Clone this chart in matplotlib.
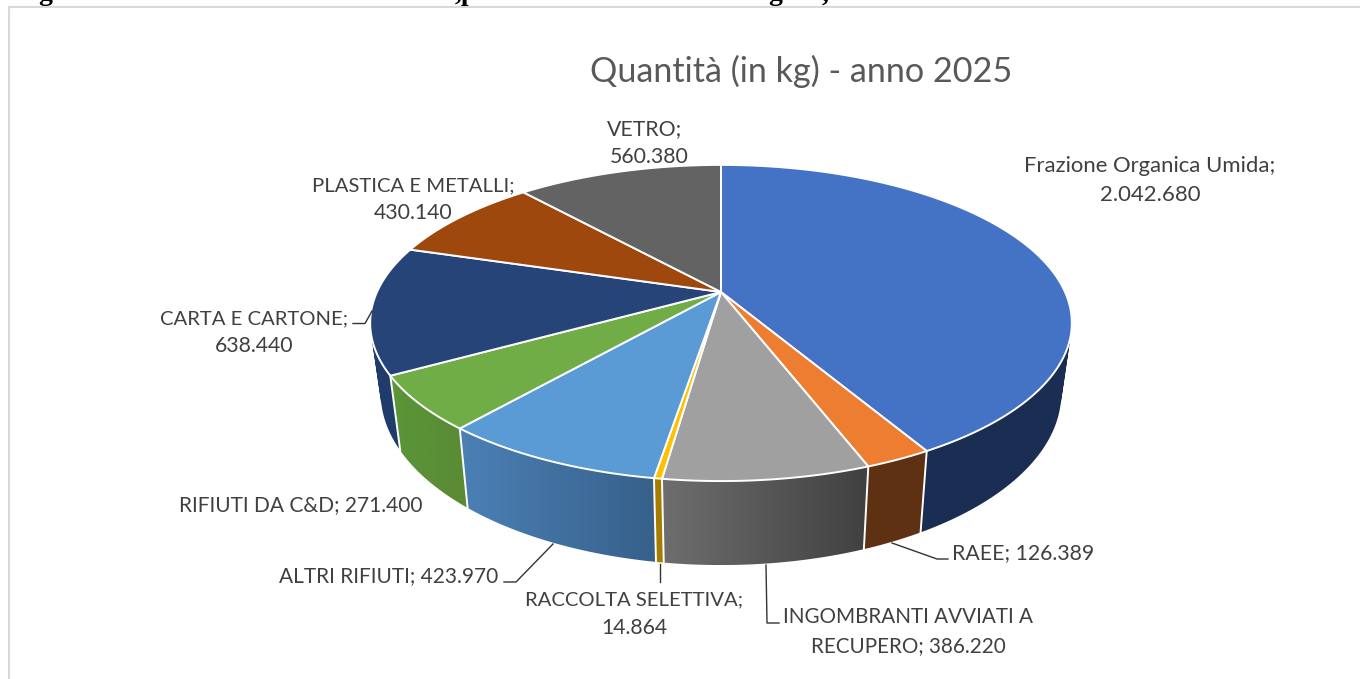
import numpy as np
from matplotlib import pyplot as plt
from matplotlib.colors import LinearSegmentedColormap
from matplotlib.path import Path
from matplotlib.patches import PathPatch, Polygon

# data
categories = [
    "Frazione Organica Umida",
    "RAEE",
    "INGOMBRANTI AVVIATI A RECUPERO",
    "RACCOLTA SELETTIVA",
    "ALTRI RIFIUTI",
    "RIFIUTI DA C&D",
    "CARTA E CARTONE",
    "PLASTICA E METALLI",
    "VETRO",
]
values = [2042680, 126389, 386220, 14864, 423970, 271400, 638440, 430140, 560380]
value_labels = ["2.042.680", "126.389", "386.220", "14.864", "423.970", "271.400", "638.440", "430.140", "560.380"]
title = "Quantità (in kg) - anno 2025"

top_colors = ["#4472C4", "#ED7D31", "#A0A0A0", "#FFC000", "#5B9BD5", "#70AD47", "#264478", "#9E480E", "#636363"]
side_left = ["#1A2D52", "#5F3113", "#6E6E6E", "#A67C00", "#4B80B5", "#5A9638", "#1F3C6B", "#5F2B08", "#3C3C3C"]
side_right = ["#1A2D52", "#5F3113", "#404040", "#A67C00", "#37608A", "#5A8A35", "#1F3C6B", "#5F2B08", "#3C3C3C"]

TEXT = "#404040"
plt.rcParams["font.family"] = ["Lato", "DejaVu Sans"]

fig = plt.figure(figsize=(13.6, 6.79), dpi=100)
ax = fig.add_axes([0, 0, 1, 1])
ax.set_xlim(0, 1360)
ax.set_ylim(679, 0)
ax.axis("off")


# perspective of the disc, fitted on the picture
def rim(a):
    u, v = np.sin(a), np.cos(a)
    w = 1 + 0.196 * v
    return 721 + 344 * u / w, 292 - 152 * v / w


def lower(x, y):
    return 721 + 0.97 * (x - 721), 565 + 1.087 * (y - 481)


def quad_path(pts):
    # same winding for all quads, so the compound clip has no holes
    p = np.array(pts)
    area = np.sum(p[:, 0] * np.roll(p[:, 1], -1) - np.roll(p[:, 0], -1) * p[:, 1])
    if area < 0:
        p = p[::-1]
    return Path(np.vstack([p, p[0]]), closed=True)


edges = 2 * np.pi * np.concatenate([[0], np.cumsum(values)]) / sum(values)

# frame and the cut off caption above it
ax.plot([8.5, 8.5, 1360], [679, 6.5, 6.5], color="#D9D9D9", lw=1.5)
for x, s in [(38, "g"), (455, ",p"), (768, "g"), (822, ",")]:
    ax.text(x, 0.5, s, family="Liberation Serif", weight="bold", fontsize=20, color="black", va="baseline")

# side wall: one gradient per slice, clipped to the wall outline
for i in range(len(values)):
    n = max(int((edges[i + 1] - edges[i]) * 60), 2)
    ang = np.linspace(edges[i], edges[i + 1], n + 1)
    xs, ys = rim(ang)
    bxs, bys = lower(xs, ys)
    quads = []
    for j in range(n):
        quads.append(quad_path([(xs[j], ys[j]), (xs[j + 1], ys[j + 1]), (bxs[j + 1], bys[j + 1]), (bxs[j], bys[j])]))
    outline = Path.make_compound_path(*quads)
    cmap = LinearSegmentedColormap.from_list("wall", [side_left[i], side_right[i]])
    x0, x1 = min(xs.min(), bxs.min()), max(xs.max(), bxs.max())
    y0, y1 = min(ys.min(), bys.min()), max(ys.max(), bys.max())
    im = ax.imshow(np.linspace(0, 1, 256).reshape(1, -1), cmap=cmap, aspect="auto", extent=(x0, x1, y1, y0), zorder=2, interpolation="bilinear")
    clip = PathPatch(outline, transform=ax.transData, fc="none", ec="none")
    ax.add_patch(clip)
    im.set_clip_path(clip)
ax.set_xlim(0, 1360)
ax.set_ylim(679, 0)

for a in edges[:-1]:
    if np.cos(a) < 0:
        x0, y0 = rim(a)
        bx0, by0 = lower(x0, y0)
        ax.plot([x0, bx0], [y0, by0], color="white", lw=1.4, zorder=3)

# top of the pie
for i in range(len(values)):
    ang = np.linspace(edges[i], edges[i + 1], 200)
    xs, ys = rim(ang)
    pts = [(721, 292)] + list(zip(xs, ys))
    ax.add_patch(Polygon(pts, fc=top_colors[i], ec="white", lw=1.4, joinstyle="round", zorder=4))

# leader lines
leaders = [
    ([892, 937, 948], [543, 559, 559]),
    ([766, 767, 779], [565, 623, 623]),
    ([660, 660], [564, 582]),
    ([504, 516, 553], [582, 582, 544]),
    ([353, 365, 372], [323.5, 323.5, 311]),
]
for lx, ly in leaders:
    ax.plot(lx, ly, color="#333333", lw=1.0, zorder=5)

ax.text(801, 71, title, fontsize=24.6, color="#595959", ha="center", va="center")

# one entry per text line: centre x, baseline y, text, font size
lines = [
    (1150, 172, f"{categories[0]};", 15.9),
    (1150, 201, value_labels[0], 15.9),
    (1023, 559, f"{categories[1]}; {value_labels[1]}", 15.3),
    (908, 623, "INGOMBRANTI AVVIATI A", 14.9),
    (908, 652, f"RECUPERO; {value_labels[2]}", 14.9),
    (634, 605, f"{categories[3]};", 14.6),
    (634, 634, value_labels[3], 15.3),
    (389, 582, f"{categories[4]}; {value_labels[4]}", 15.0),
    (301, 511, f"{categories[5]}; {value_labels[5]}", 15.0),
    (254, 324, f"{categories[6]};", 14.6),
    (254, 352, value_labels[6], 15.3),
    (413, 191, f"{categories[7]};", 14.6),
    (413, 219, value_labels[7], 15.3),
    (645, 135, f"{categories[8]};", 15.3),
    (649, 163, value_labels[8], 15.3),
]
for x, y, s, size in lines:
    ax.text(x, y, s, fontsize=size, color=TEXT, ha="center", va="baseline", zorder=6)

plt.savefig("out.png", dpi=100)
